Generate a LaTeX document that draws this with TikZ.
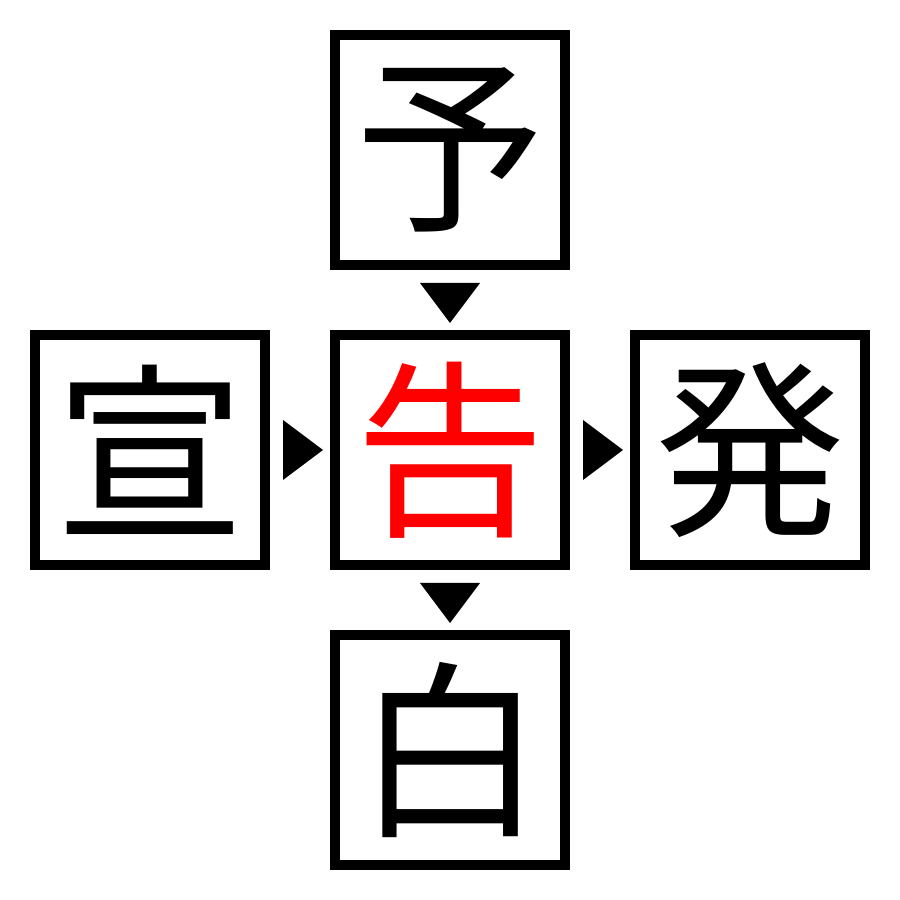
\documentclass[tikz,border=0pt]{standalone}
\usepackage{fontspec}
\newfontfamily\jpfont{Noto Sans CJK JP}
\tikzset{kbox/.style={draw,line width=0.1cm,minimum size=2.3cm,inner sep=0pt,
      font=\jpfont\fontsize{54}{54}\selectfont}}
\begin{document}
\begin{tikzpicture}
            \useasboundingbox (0,0) rectangle (9,9);
            \draw (4.5,7.5) node[kbox] (yo) {予};
            \draw (1.5,4.5) node[kbox] (sen) {宣};
            \draw (4.5,4.5) node[kbox,text=red] (koku) {告};
            \draw (7.5,4.5) node[kbox] (hatsu) {発};
            \draw (4.5,1.5) node[kbox] (haku) {白};
            \fill (4.2,6.17) -- (4.8,6.17) -- (4.5,5.77) -- cycle
                  (4.2,3.17) -- (4.8,3.17) -- (4.5,2.77) -- cycle
                  (2.83,4.8) -- (2.83,4.2) -- (3.23,4.5) -- cycle
                  (5.83,4.8) -- (5.83,4.2) -- (6.23,4.5) -- cycle;
\end{tikzpicture}
\end{document}
